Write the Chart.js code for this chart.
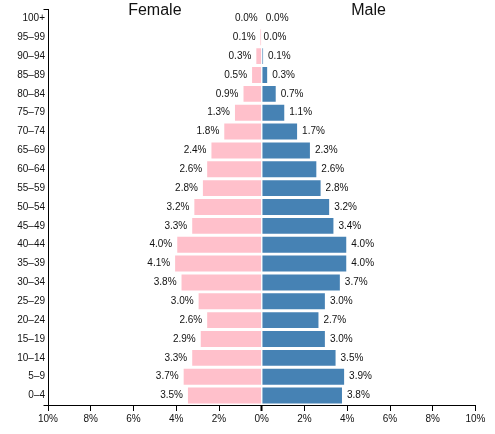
<!DOCTYPE html>
<html>
<head>
<meta charset="utf-8">
<script src="https://cdn.jsdelivr.net/npm/chart.js@4"></script>
<style>
  html, body { margin: 0; padding: 0; background: #fff; }
  #wrap { width: 495px; height: 434px; }
</style>
</head>
<body>
<div id="wrap"><canvas id="pyramid"></canvas></div>
<script>
const ageGroups = ['100+', '95–99', '90–94', '85–89', '80–84', '75–79', '70–74', '65–69', '60–64', '55–59',
  '50–54', '45–49', '40–44', '35–39', '30–34', '25–29', '20–24', '15–19', '10–14', '5–9', '0–4'];
const female = [0.0, 0.1, 0.3, 0.5, 0.9, 1.3, 1.8, 2.4, 2.6, 2.8, 3.2, 3.3, 4.0, 4.1, 3.8, 3.0, 2.6, 2.9, 3.3, 3.7, 3.5];
const male = [0.0, 0.0, 0.1, 0.3, 0.7, 1.1, 1.7, 2.3, 2.6, 2.8, 3.2, 3.4, 4.0, 4.0, 3.7, 3.0, 2.7, 3.0, 3.5, 3.9, 3.8];
const sideTitles = ['Female', 'Male'];

const FONT = '"Liberation Sans", Arial, sans-serif';
const INK = '#111';

// value labels, side titles and the little end ticks on the y axis
const pyramidExtras = {
  id: 'pyramidExtras',
  afterDraw(chart) {
    const {ctx, scales: {x, y}} = chart;
    ctx.save();
    ctx.fillStyle = INK;
    ctx.font = '10px ' + FONT;
    ctx.textBaseline = 'middle';

    chart.getDatasetMeta(0).data.forEach((bar, i) => {
      ctx.textAlign = 'right';
      ctx.fillText(female[i].toFixed(1) + '%', bar.x - 4, bar.y);
    });
    chart.getDatasetMeta(1).data.forEach((bar, i) => {
      ctx.textAlign = 'left';
      ctx.fillText(male[i].toFixed(1) + '%', bar.x + 4, bar.y);
    });

    ctx.font = '16px ' + FONT;
    ctx.textAlign = 'center';
    ctx.textBaseline = 'alphabetic';
    ctx.fillText(sideTitles[0], x.getPixelForValue(-5), 15);
    ctx.fillText(sideTitles[1], x.getPixelForValue(5), 15);

    ctx.strokeStyle = '#000';
    ctx.lineWidth = 1;
    ctx.beginPath();
    const lx = Math.round(x.left) + 0.5;
    [y.top, y.bottom].forEach(py => {
      const yy = Math.round(py) + 0.5;
      ctx.moveTo(lx - 5, yy);
      ctx.lineTo(lx, yy);
    });
    ctx.stroke();
    ctx.restore();
  }
};

new Chart(document.getElementById('pyramid'), {
  type: 'bar',
  data: {
    labels: ageGroups,
    datasets: [
      {label: 'Female', data: female.map(v => -v), backgroundColor: 'pink',
       borderColor: 'rgba(255,255,255,0.45)', borderWidth: 1, borderSkipped: 'start'},
      {label: 'Male', data: male, backgroundColor: 'steelblue',
       borderColor: 'rgba(255,255,255,0.45)', borderWidth: 1, borderSkipped: 'start'}
    ]
  },
  options: {
    indexAxis: 'y',
    responsive: true,
    maintainAspectRatio: false,
    animation: false,
    layout: {padding: {top: 3, right: 19.5, left: 0, bottom: 0}},
    datasets: {bar: {barPercentage: 0.95, categoryPercentage: 1}},
    plugins: {legend: {display: false}, tooltip: {enabled: false}},
    scales: {
      x: {
        stacked: true,
        min: -10,
        max: 10,
        ticks: {
          stepSize: 2,
          padding: 2,
          color: INK,
          font: {family: FONT, size: 10},
          callback: v => Math.abs(v) + '%'
        },
        grid: {drawOnChartArea: false, drawTicks: true, tickLength: 6, tickColor: '#000',
               tickWidth: ctx => (ctx.tick && ctx.tick.value === 0 ? 2 : 1)},
        border: {display: true, color: '#000', width: 1},
        afterFit: s => { s.height = 29; }
      },
      y: {
        stacked: true,
        ticks: {autoSkip: false, padding: 3, color: INK, font: {family: FONT, size: 10}},
        grid: {drawOnChartArea: false, drawTicks: false},
        border: {display: true, color: '#000', width: 1},
        afterFit: s => { s.width = 48; }
      }
    }
  },
  plugins: [pyramidExtras]
});
</script>
</body>
</html>
